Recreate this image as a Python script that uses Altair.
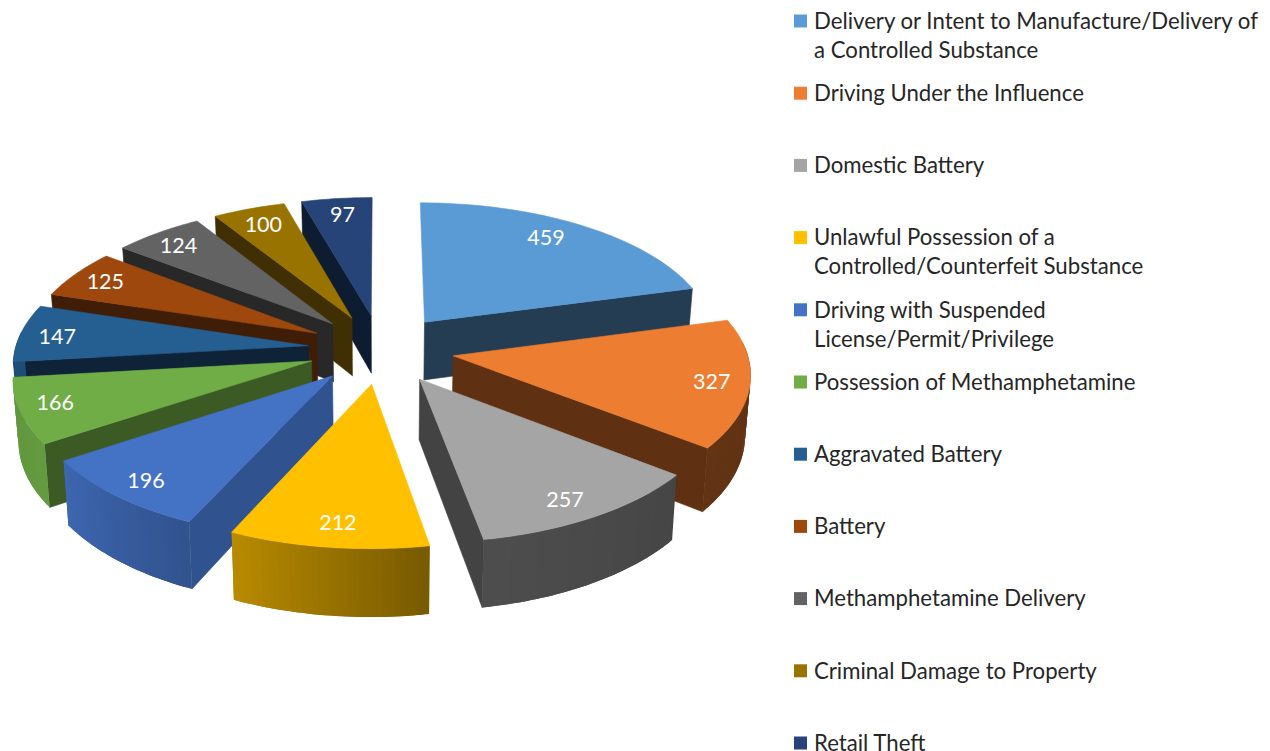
import math
import altair as alt
import numpy as np

categories = [
    "Delivery or Intent to Manufacture/Delivery of\na Controlled Substance",
    "Driving Under the Influence",
    "Domestic Battery",
    "Unlawful Possession of a\nControlled/Counterfeit Substance",
    "Driving with Suspended\nLicense/Permit/Privilege",
    "Possession of Methamphetamine",
    "Aggravated Battery",
    "Battery",
    "Methamphetamine Delivery",
    "Criminal Damage to Property",
    "Retail Theft",
]
values = [459, 327, 257, 212, 196, 166, 147, 125, 124, 100, 97]
colors = ["#5B9BD5", "#ED7D31", "#A5A5A5", "#FFC000", "#4472C4", "#70AD47",
          "#255E91", "#9E480E", "#636363", "#997300", "#264478"]
radial_wall = ["#243D53", "#5F3012", "#434343", "#7C5D00", "#30528F", "#3B5A24",
               "#0E2238", "#401D06", "#282828", "#3F2F02", "#0E1C32"]

# camera model of the tilted, exploded pie
CX, CY = 381.0, 349.0
A, B, K, H = 293.0, 138.0, 0.11, 59.0
EXPLODE = 0.25
CONVERGE = 0.015
LIGHT_T = [90, 128, 170, 204, 236, 264, 280]
LIGHT_F = [0.40, 0.42, 0.47, 0.72, 0.90, 0.85, 0.80]
LABEL_DX = [-18, -2, -7, 4, 2, -1, 2, 2, 1, 3, 2]
LABEL_DY = [1, 0, 0, -3, 0, -3, 1, 0, 2, 3, 3]


def proj(X, Y, drop=False):
    w = 1 + K * Y
    x = CX + A * X / w
    y = CY - B * Y / w
    if drop:
        x = CX + (x - CX) * (1 - CONVERGE)
        y = y + H / w
    return [round(float(x), 2), round(float(y), 2)]


def shade(hex_color, f):
    rgb = [int(hex_color[i:i + 2], 16) for i in (1, 3, 5)]
    return "#%02x%02x%02x" % tuple(int(round(c * f)) for c in rgb)


def feature(ring, fill, sw=0.6):
    return {"type": "Feature", "properties": {"fill": fill, "sw": sw},
            "geometry": {"type": "Polygon", "coordinates": [ring + [ring[0]]]}}


total = sum(values)
edges = np.cumsum([0] + values) / total * 360.0
slices = []
for i, v in enumerate(values):
    t0, t1 = edges[i], edges[i + 1]
    mid = math.radians((t0 + t1) / 2)
    slices.append((t0, t1, EXPLODE * math.sin(mid), EXPLODE * math.cos(mid), i))

features = []
labels = []
for t0, t1, ox, oy, i in sorted(slices, key=lambda s: -s[3]):
    ts = np.arange(t0, t1 + 0.001, 1.0).tolist()
    if ts[-1] < t1:
        ts.append(t1)
    pt = lambda t: (ox + math.sin(math.radians(t)), oy + math.cos(math.radians(t)))
    # radial walls
    for t, visible in ((t0, math.sin(math.radians(t0)) < -1e-6), (t1, math.sin(math.radians(t1)) > 1e-6)):
        if visible:
            X, Y = pt(t)
            features.append(feature([proj(ox, oy), proj(X, Y), proj(X, Y, True), proj(ox, oy, True)], radial_wall[i]))
    # outer wall strips, front-facing part only; each overlaps the next to hide seams
    for j, (a, b) in enumerate(zip(ts[:-1], ts[1:])):
        m = (a + b) / 2
        if math.cos(math.radians(m)) < 0.1:
            c = ts[min(j + 2, len(ts) - 1)]
            Xa, Ya = pt(a)
            Xc, Yc = pt(b)
            Xd, Yd = pt(c)
            f = float(np.interp(m, LIGHT_T, LIGHT_F))
            features.append(feature([proj(Xa, Ya), proj(Xc, Yc), proj(Xd, Yd), proj(Xd, Yd, True),
                                     proj(Xc, Yc, True), proj(Xa, Ya, True)],
                                    shade(colors[i], f), 0))
    # top face
    ring = [proj(ox, oy)] + [proj(*pt(t)) for t in ts]
    features.append(feature(ring, colors[i]))
    mid = math.radians((t0 + t1) / 2)
    lx, ly = proj(ox + 0.88 * math.sin(mid), oy + 0.88 * math.cos(mid))
    labels.append({"px": lx + LABEL_DX[i], "py": ly + 8 + LABEL_DY[i], "value": str(values[i])})

x_scale = alt.Scale(domain=[8, 1262], range=[0, 1254], nice=False, zero=False)
y_scale = alt.Scale(domain=[8, 751], range=[0, 743], nice=False, zero=False)

pie = alt.Chart(alt.Data(values=features)).mark_geoshape().encode(
    fill=alt.Fill("properties.fill:N", scale=None),
    stroke=alt.Stroke("properties.fill:N", scale=None),
    strokeWidth=alt.StrokeWidth("properties.sw:Q", scale=None),
).project(type="identity", scale=1, translate=[-8, -8])

label_layer = alt.Chart(alt.Data(values=labels)).mark_text(
    font="Lato", fontSize=21.5, color="white", baseline="alphabetic", align="center"
).encode(
    x=alt.X("px:Q", scale=x_scale, axis=None),
    y=alt.Y("py:Q", scale=y_scale, axis=None),
    text="value:N",
)

legend_rows = [{"name": c, "col": colors[i], "sx": 800.5, "tx": 814,
                "sy": 21 + 72.2 * i, "ty": 28.8 + 72.2 * i}
               for i, c in enumerate(categories)]

legend_sym = alt.Chart(alt.Data(values=legend_rows)).mark_square(size=169, opacity=1).encode(
    x=alt.X("sx:Q", scale=x_scale, axis=None),
    y=alt.Y("sy:Q", scale=y_scale, axis=None),
    fill=alt.Fill("col:N", scale=None),
)
legend_txt = alt.Chart(alt.Data(values=legend_rows)).mark_text(
    font="Lato", fontSize=22.2, color="#262626", align="left", baseline="alphabetic",
    lineBreak="\n", lineHeight=29,
).encode(
    x=alt.X("tx:Q", scale=x_scale, axis=None),
    y=alt.Y("ty:Q", scale=y_scale, axis=None),
    text="name:N",
)

chart = alt.layer(pie, label_layer, legend_sym, legend_txt).properties(
    width=1254, height=743, padding=0, autosize=alt.AutoSizeParams(type="none")
).configure_view(stroke=None)

chart.save("out.html", embed_options={"renderer": "svg", "actions": False})
